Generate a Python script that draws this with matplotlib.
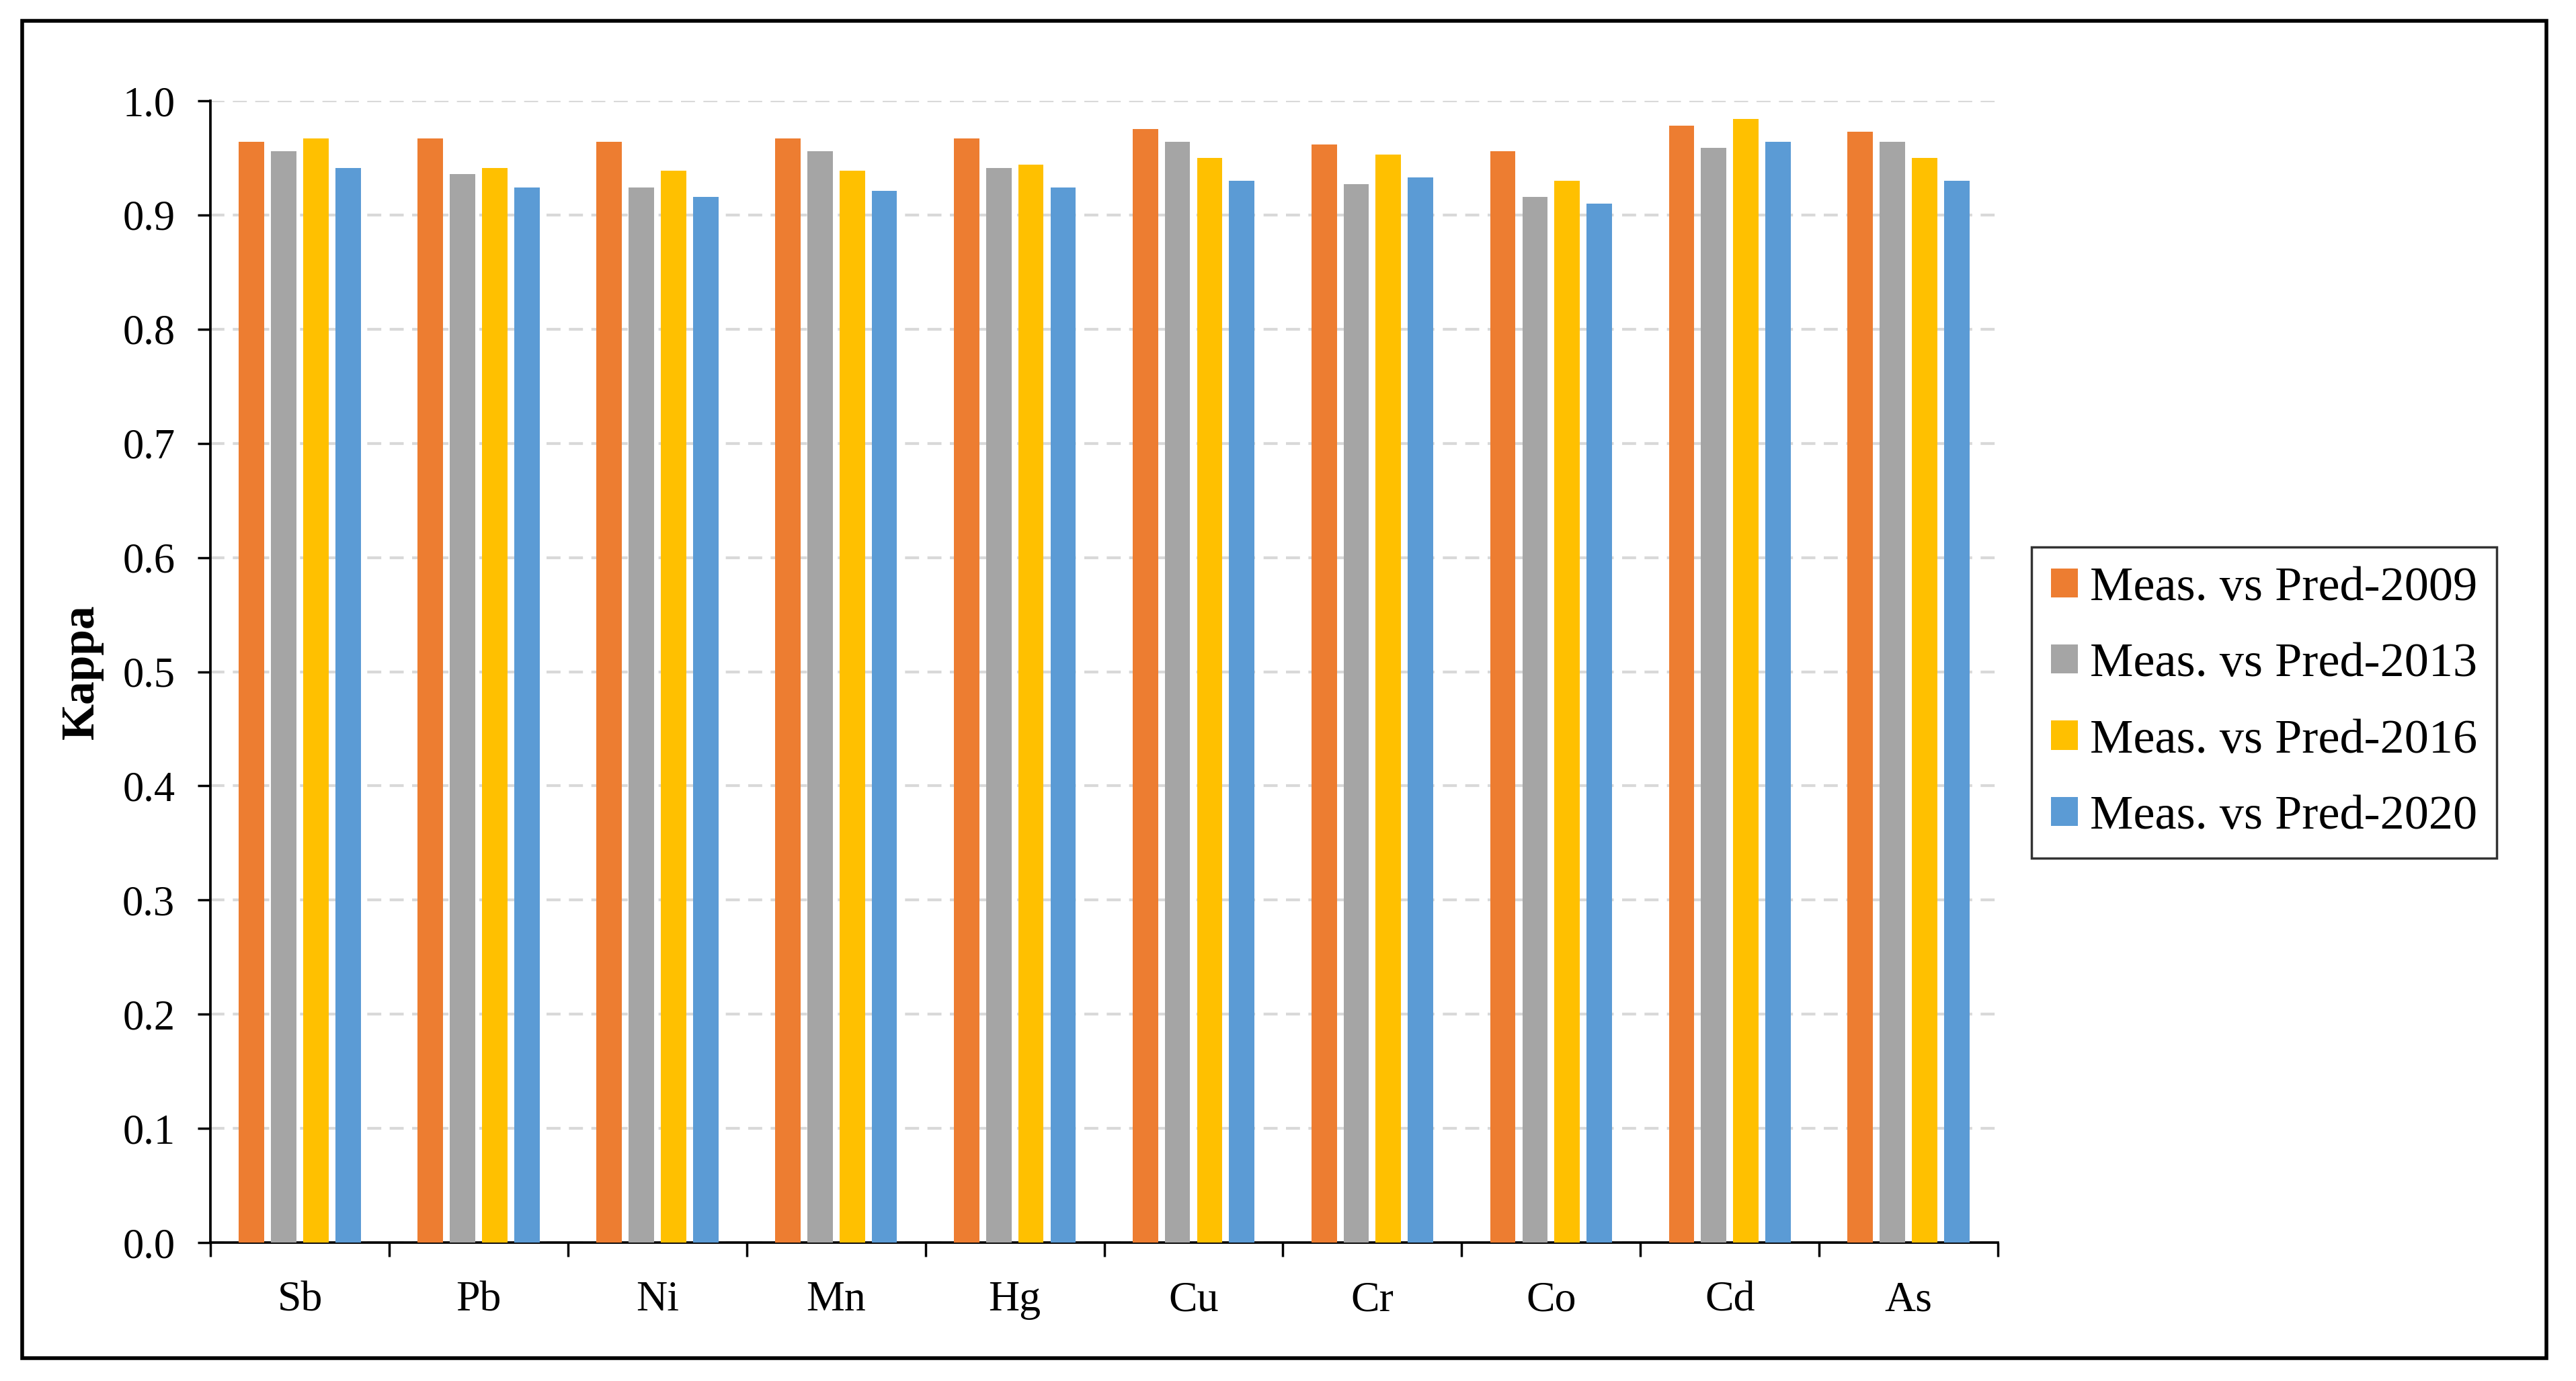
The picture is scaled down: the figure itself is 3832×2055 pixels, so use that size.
import matplotlib.pyplot as plt
import numpy as np
from matplotlib.patches import Rectangle

# Datos (Kappa por elemento y por año)
elementos = ["Sb", "Pb", "Ni", "Mn", "Hg", "Cu", "Cr", "Co", "Cd", "As"]
k_2009 = [0.964, 0.967, 0.964, 0.967, 0.967, 0.975, 0.962, 0.956, 0.978, 0.973]
k_2013 = [0.956, 0.936, 0.924, 0.956, 0.941, 0.964, 0.927, 0.916, 0.959, 0.964]
k_2016 = [0.967, 0.941, 0.939, 0.939, 0.944, 0.950, 0.953, 0.930, 0.984, 0.950]
k_2020 = [0.941, 0.924, 0.916, 0.921, 0.924, 0.930, 0.933, 0.910, 0.964, 0.930]
etiquetas = ["Meas. vs Pred-2009", "Meas. vs Pred-2013",
             "Meas. vs Pred-2016", "Meas. vs Pred-2020"]
colores = ["#ED7D31", "#A5A5A5", "#FFC000", "#5B9BD5"]

plt.rcParams["font.family"] = ["Liberation Serif", "DejaVu Serif"]

fig = plt.figure(figsize=(38.32, 20.55), dpi=100)
ax = fig.add_axes([0.0817, 0.1002, 0.6939, 0.8268])

x = np.arange(len(elementos))
ancho = 0.142
paso = 0.18
series = [k_2009, k_2013, k_2016, k_2020]
for j, (vals, c, lab) in enumerate(zip(series, colores, etiquetas)):
    ax.bar(x + (j - 1.5) * paso, vals, width=ancho, color=c, label=lab, zorder=3)

# Ejes estilo Excel
ax.set_xlim(-0.5, len(elementos) - 0.5)
ax.set_ylim(0, 1.0)
ax.set_yticks(np.arange(0, 1.01, 0.1))
ax.set_yticklabels([f"{v:.1f}" for v in np.arange(0, 1.01, 0.1)])
ax.grid(axis="y", color="#D9D9D9", linestyle=(0, (5, 3)), linewidth=3, zorder=0)

ax.set_xticks(np.arange(-0.5, len(elementos), 1.0))
ax.set_xticklabels([])
ax.set_xticks(x, minor=True)
ax.set_xticklabels(elementos, minor=True)
ax.tick_params(axis="x", which="major", length=15, width=2.5, direction="out")
ax.tick_params(axis="x", which="minor", length=0, pad=41, labelsize=46)
ax.tick_params(axis="y", length=14, width=2.5, pad=24, labelsize=45)

for s in ["top", "right"]:
    ax.spines[s].set_visible(False)
for s in ["left", "bottom"]:
    ax.spines[s].set_linewidth(2.7)

ax.set_ylabel("Kappa", fontsize=50, fontweight="bold")
ax.yaxis.set_label_coords(-0.06, 0.5)

leg = fig.legend(loc="upper left", bbox_to_anchor=(3022 / 3832, 1 - 814 / 2055),
                 fontsize=52, frameon=True, fancybox=False, edgecolor="black",
                 handlelength=0.55, handleheight=0.55, handletextpad=0.25,
                 labelspacing=0.67, borderpad=0.4, borderaxespad=0)
leg.get_frame().set_linewidth(2.5)

# Marco exterior
fig.patches.append(Rectangle((33 / 3832, 1 - 2021 / 2055), (3788 - 33) / 3832,
                             (2021 - 31) / 2055, transform=fig.transFigure,
                             fill=False, edgecolor="black", linewidth=4))

fig.savefig("out.png", dpi=100, facecolor="white")
